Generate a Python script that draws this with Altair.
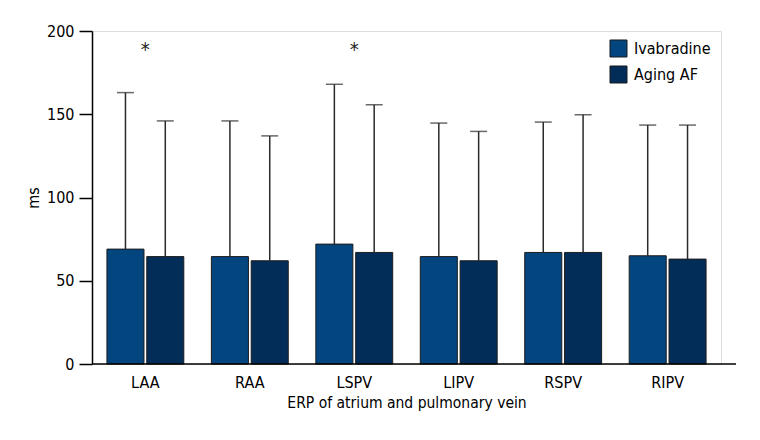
import altair as alt
import pandas as pd

categories = ["LAA", "RAA", "LSPV", "LIPV", "RSPV", "RIPV"]
groups = ["Ivabradine", "Aging AF"]
ivabradine_mean = [69, 64.5, 72, 64.5, 67, 65]
ivabradine_upper = [163, 146, 168, 144.7, 145.3, 143.5]
aging_mean = [64.5, 62, 67, 62, 67, 63]
aging_upper = [146, 137, 155.7, 139.7, 149.7, 143.5]
star_categories = ["LAA", "LSPV"]
star_value = [191, 191]
colors = ["#03457f", "#032d59"]

rows = []
for i, c in enumerate(categories):
    rows.append({"cat": c, "grp": groups[0], "mean": ivabradine_mean[i], "upper": ivabradine_upper[i]})
    rows.append({"cat": c, "grp": groups[1], "mean": aging_mean[i], "upper": aging_upper[i]})
df = pd.DataFrame(rows)
stars = pd.DataFrame({"cat": star_categories, "v": star_value, "t": ["*", "*"]})

FONT = "DejaVu Sans Condensed, Liberation Sans Narrow, sans-serif"

xscale = alt.Scale(domain=categories, paddingInner=0.264, paddingOuter=0.143)
xoff = alt.Scale(domain=groups, paddingInner=0.07, paddingOuter=0)
yscale = alt.Scale(domain=[0, 200])

x = alt.X("cat:N", scale=xscale, sort=categories,
          axis=alt.Axis(title="ERP of atrium and pulmonary vein", labelAngle=0, ticks=False,
                        domain=False, labelPadding=10, titlePadding=5, labelFontSize=16,
                        titleFontSize=15.5))
y = alt.Y("mean:Q", scale=yscale,
          axis=alt.Axis(title="ms", values=[0, 50, 100, 150, 200], grid=False, tickSize=13,
                        tickWidth=1.5, domainWidth=1.5, domainColor="black", tickColor="black",
                        labelPadding=5, titlePadding=5, labelFontSize=16, titleFontSize=16))

base = alt.Chart(df)

bars = base.mark_bar(stroke="#1c1c1c", strokeWidth=1).encode(
    x=x,
    xOffset=alt.XOffset("grp:N", scale=xoff, sort=groups),
    y=y,
    color=alt.Color("grp:N", scale=alt.Scale(domain=groups, range=colors), sort=groups,
                    legend=alt.Legend(title=None, orient="none", legendX=517, legendY=8,
                                      symbolType="square", symbolSize=290, symbolStrokeColor="#1c1c1c",
                                      symbolStrokeWidth=1, labelFontSize=16, rowPadding=3,
                                      labelOffset=6)),
)

err = base.mark_rule(color="#2a2a2a", strokeWidth=1.5).encode(
    x=alt.X("cat:N", scale=xscale, sort=categories),
    xOffset=alt.XOffset("grp:N", scale=xoff, sort=groups),
    y=alt.Y("mean:Q", scale=yscale),
    y2="upper:Q",
)

caps = base.mark_tick(color="#2a2a2a", thickness=1.5, size=17, orient="horizontal").encode(
    x=alt.X("cat:N", scale=xscale, sort=categories),
    xOffset=alt.XOffset("grp:N", scale=xoff, sort=groups),
    y=alt.Y("upper:Q", scale=yscale),
)

baseline = alt.Chart(pd.DataFrame({"v": [0]})).mark_rule(color="black", strokeWidth=1.5).encode(
    x=alt.value(0), x2=alt.value(644), y=alt.Y("v:Q", scale=yscale),
)

star = alt.Chart(stars).mark_text(fontSize=20, color="#222", baseline="middle", dy=4).encode(
    x=alt.X("cat:N", scale=xscale, sort=categories),
    y=alt.Y("v:Q", scale=yscale),
    text="t:N",
)

chart = alt.layer(bars, err, caps, baseline, star).properties(
    width=629, height=333,
    autosize=alt.AutoSizeParams(type="none"),
    padding={"left": 84, "top": 23, "right": 31, "bottom": 68},
).configure_view(stroke=None).configure(font=FONT).configure_axis(
    labelFont=FONT, titleFont=FONT,
    labelColor="black", titleColor="black", titleFontWeight="normal",
).configure_legend(labelFont=FONT, labelColor="black")

chart.save("out.html", embed_options={"renderer": "svg", "actions": False})
